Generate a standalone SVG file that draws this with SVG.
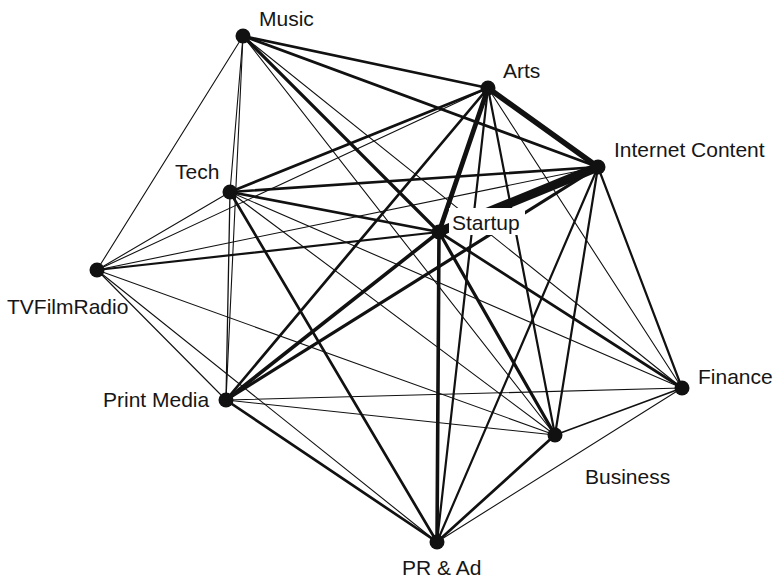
<svg xmlns="http://www.w3.org/2000/svg" width="775" height="580" viewBox="0 0 775 580">
  <style>
    .e { stroke: #111111; stroke-linecap: round; fill: none; }
    .w1 { stroke-width: 1.1; }
    .w12 { stroke-width: 1.3; }
    .w15 { stroke-width: 1.6; }
    .w2 { stroke-width: 2.2; }
    .w25 { stroke-width: 2.7; }
    .w3 { stroke-width: 3.2; }
    .w35 { stroke-width: 3.6; }
    .w45 { stroke-width: 4.8; }
    .w5 { stroke-width: 5.5; }
    .w7 { stroke-width: 9; stroke-linecap: butt; }
    .dot { fill: #111111; }
    .lbl { font-family: "Liberation Sans", Arial, sans-serif; font-size: 21px; fill: #161616; }
    .bg { fill: #ffffff; }
  </style>
  <rect width="775" height="580" fill="#ffffff"/>

  <!-- weighted links between sectors -->
  <g id="connectors">
    <!-- Music -->
    <line class="e w25" x1="243" y1="36" x2="488" y2="88"/>
    <line class="e w25" x1="243" y1="36" x2="598" y2="167"/>
    <line class="e w1" x1="243" y1="36" x2="230" y2="192"/>
    <line class="e w3" x1="243" y1="36" x2="439" y2="232"/>
    <line class="e w1" x1="243" y1="36" x2="97" y2="270"/>
    <line class="e w1" x1="243" y1="36" x2="226" y2="400"/>
    <line class="e w1" x1="243" y1="36" x2="682" y2="388"/>
    <line class="e w1" x1="243" y1="36" x2="555" y2="435"/>
    <!-- Arts -->
    <line class="e w5" x1="488" y1="88" x2="598" y2="167"/>
    <line class="e w45" x1="488" y1="88" x2="439" y2="232"/>
    <line class="e w25" x1="488" y1="88" x2="230" y2="192"/>
    <line class="e w1" x1="488" y1="88" x2="97" y2="270"/>
    <line class="e w25" x1="488" y1="88" x2="226" y2="400"/>
    <line class="e w2" x1="488" y1="88" x2="555" y2="435"/>
    <line class="e w2" x1="488" y1="88" x2="437" y2="542"/>
    <line class="e w1" x1="488" y1="88" x2="682" y2="388"/>
    <!-- Internet Content -->
    <line class="e w7" x1="598" y1="167" x2="439" y2="232"/>
    <line class="e w25" x1="598" y1="167" x2="230" y2="192"/>
    <line class="e w1" x1="598" y1="167" x2="97" y2="270"/>
    <line class="e w3" x1="598" y1="167" x2="226" y2="400"/>
    <line class="e w2" x1="598" y1="167" x2="682" y2="388"/>
    <line class="e w2" x1="598" y1="167" x2="555" y2="435"/>
    <line class="e w2" x1="598" y1="167" x2="437" y2="542"/>
    <!-- Tech -->
    <line class="e w25" x1="230" y1="192" x2="439" y2="232"/>
    <line class="e w1" x1="230" y1="192" x2="97" y2="270"/>
    <line class="e w12" x1="230" y1="192" x2="226" y2="400"/>
    <line class="e w1" x1="230" y1="192" x2="682" y2="388"/>
    <line class="e w1" x1="230" y1="192" x2="555" y2="435"/>
    <line class="e w25" x1="230" y1="192" x2="437" y2="542"/>
    <!-- Startup -->
    <line class="e w2" x1="439" y1="232" x2="97" y2="270"/>
    <line class="e w35" x1="439" y1="232" x2="226" y2="400"/>
    <line class="e w25" x1="439" y1="232" x2="682" y2="388"/>
    <line class="e w3" x1="439" y1="232" x2="555" y2="435"/>
    <line class="e w35" x1="439" y1="232" x2="437" y2="542"/>
    <!-- TVFilmRadio -->
    <line class="e w1" x1="97" y1="270" x2="226" y2="400"/>
    <line class="e w1" x1="97" y1="270" x2="555" y2="435"/>
    <line class="e w1" x1="97" y1="270" x2="437" y2="542"/>
    <!-- Print Media -->
    <line class="e w1" x1="226" y1="400" x2="682" y2="388"/>
    <line class="e w1" x1="226" y1="400" x2="555" y2="435"/>
    <line class="e w25" x1="226" y1="400" x2="437" y2="542"/>
    <!-- Finance -->
    <line class="e w15" x1="682" y1="388" x2="555" y2="435"/>
    <line class="e w1" x1="682" y1="388" x2="437" y2="542"/>
    <!-- Business -->
    <line class="e w25" x1="555" y1="435" x2="437" y2="542"/>
  </g>

  <g id="music">
    <circle class="dot" cx="243" cy="36" r="7.5"/>
    <text class="lbl" x="259" y="26">Music</text>
  </g>
  <g id="arts">
    <circle class="dot" cx="488" cy="88" r="7.5"/>
    <text class="lbl" x="503" y="78">Arts</text>
  </g>
  <g id="internet-content">
    <circle class="dot" cx="598" cy="167" r="7.5"/>
    <text class="lbl" x="614" y="157">Internet Content</text>
  </g>
  <g id="tech">
    <circle class="dot" cx="230" cy="192" r="7.5"/>
    <text class="lbl" x="175" y="179">Tech</text>
  </g>
  <g id="startup">
    <rect class="bg" x="449" y="208" width="76" height="27"/>
    <circle class="dot" cx="439" cy="232" r="7.5"/>
    <text class="lbl" x="452" y="230">Startup</text>
  </g>
  <g id="tvfilmradio">
    <circle class="dot" cx="97" cy="270" r="7.5"/>
    <text class="lbl" x="7" y="314">TVFilmRadio</text>
  </g>
  <g id="print-media">
    <circle class="dot" cx="226" cy="400" r="7.5"/>
    <text class="lbl" x="103" y="407">Print Media</text>
  </g>
  <g id="finance">
    <circle class="dot" cx="682" cy="388" r="7.5"/>
    <text class="lbl" x="698" y="384">Finance</text>
  </g>
  <g id="business">
    <circle class="dot" cx="555" cy="435" r="7.5"/>
    <text class="lbl" x="585" y="484">Business</text>
  </g>
  <g id="pr-ad">
    <circle class="dot" cx="437" cy="542" r="7.5"/>
    <text class="lbl" x="402" y="575">PR &amp; Ad</text>
  </g>
</svg>
